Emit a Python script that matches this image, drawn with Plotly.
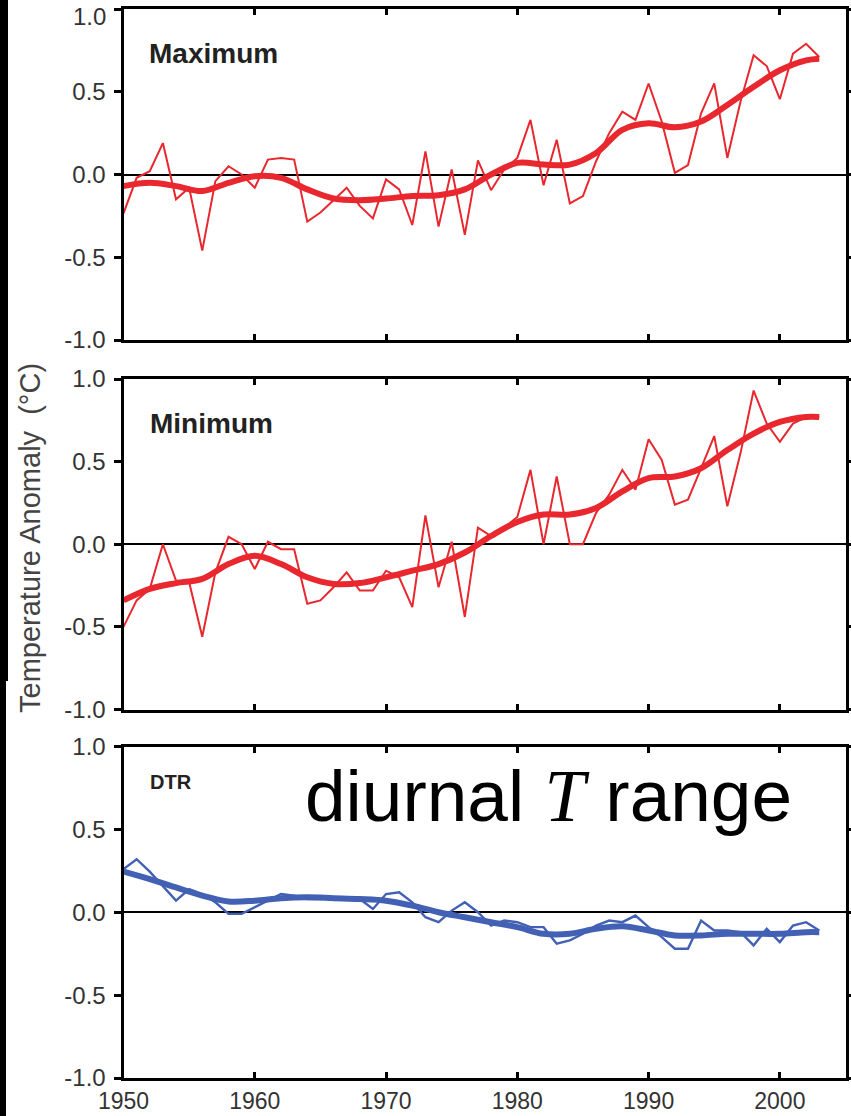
import plotly.graph_objects as go

# ---------------- data ----------------
years = list(range(1950, 2004))

tmax = [-0.235, -0.02, 0.02, 0.19, -0.15, -0.08, -0.46, -0.04, 0.05, 0.0,
        -0.08, 0.09, 0.10, 0.09, -0.285, -0.23, -0.155, -0.08, -0.19, -0.265,
        -0.03, -0.09, -0.305, 0.14, -0.315, 0.03, -0.365, 0.085, -0.095, 0.03,
        0.10, 0.33, -0.065, 0.21, -0.175, -0.13, 0.08, 0.25, 0.38, 0.33,
        0.55, 0.32, 0.01, 0.057, 0.37, 0.55, 0.10, 0.44, 0.72, 0.655,
        0.455, 0.73, 0.79, 0.71]

tmin = [-0.50, -0.34, -0.27, 0.0, -0.22, -0.23, -0.56, -0.17, 0.045, 0.0,
        -0.15, 0.015, -0.03, -0.03, -0.36, -0.34, -0.26, -0.17, -0.28, -0.28,
        -0.16, -0.20, -0.38, 0.175, -0.26, 0.015, -0.44, 0.10, 0.05, 0.10,
        0.165, 0.45, 0.0, 0.41, 0.0, 0.0, 0.19, 0.30, 0.45, 0.33,
        0.635, 0.51, 0.24, 0.27, 0.46, 0.655, 0.23, 0.55, 0.93, 0.73,
        0.62, 0.73, 0.77, 0.77]

dtr = [0.26, 0.32, 0.245, 0.16, 0.07, 0.14, 0.11, 0.06, -0.01, -0.01,
       0.03, 0.07, 0.11, 0.10, 0.08, 0.08, 0.09, 0.08, 0.08, 0.02,
       0.11, 0.12, 0.06, -0.03, -0.06, 0.01, 0.06, 0.0, -0.08, -0.05,
       -0.06, -0.09, -0.09, -0.19, -0.17, -0.13, -0.08, -0.05, -0.06, -0.02,
       -0.09, -0.15, -0.22, -0.22, -0.05, -0.11, -0.11, -0.12, -0.20, -0.10,
       -0.18, -0.08, -0.06, -0.11]

smooth_years = [1950, 1952, 1954, 1956, 1958, 1960, 1962, 1964, 1966, 1968,
                1970, 1972, 1974, 1976, 1978, 1980, 1982, 1984, 1986, 1988,
                1990, 1992, 1994, 1996, 1998, 2000, 2002, 2003]

tmax_smooth = [-0.07, -0.05, -0.07, -0.10, -0.05, -0.01, -0.02, -0.09, -0.145, -0.155,
               -0.145, -0.13, -0.125, -0.09, 0.0, 0.07, 0.06, 0.06, 0.13, 0.27,
               0.31, 0.285, 0.32, 0.42, 0.53, 0.63, 0.69, 0.70]

tmin_smooth = [-0.34, -0.27, -0.235, -0.21, -0.12, -0.07, -0.12, -0.20, -0.24, -0.235,
               -0.20, -0.16, -0.12, -0.05, 0.05, 0.135, 0.18, 0.18, 0.22, 0.32,
               0.40, 0.41, 0.46, 0.57, 0.67, 0.74, 0.77, 0.77]

dtr_smooth = [0.245, 0.20, 0.15, 0.10, 0.065, 0.07, 0.085, 0.09, 0.085, 0.08,
              0.07, 0.04, 0.0, -0.03, -0.06, -0.09, -0.13, -0.13, -0.10, -0.085,
              -0.11, -0.14, -0.14, -0.13, -0.13, -0.13, -0.12, -0.12]

panel_labels = ["Maximum", "Minimum", "DTR"]
x_ticks = [1950, 1960, 1970, 1980, 1990, 2000]
y_ticks = [-1.0, -0.5, 0.0, 0.5, 1.0]
y_ticktext = ["-1.0", "-0.5", "0.0", "0.5", "1.0"]

# ---------------- styling ----------------
W, H = 851, 1116
RED = "#e8282e"
BLUE = "#4361b4"
FONT = "Liberation Sans, Arial, Helvetica, sans-serif"
TICKCOL = "#333333"

panels_px = [(9, 340), (379, 709.5), (746.5, 1078)]
x_dom = [123.5 / W, 845.5 / W]

fig = go.Figure()

series = [(tmax, tmax_smooth, RED, 2.0), (tmin, tmin_smooth, RED, 2.0), (dtr, dtr_smooth, BLUE, 2.4)]
for i, (ann, sm, col, lw) in enumerate(series):
    sfx = "" if i == 0 else str(i + 1)
    fig.add_trace(go.Scatter(x=years, y=ann, mode="lines", line=dict(color=col, width=lw),
                             xaxis="x" + sfx, yaxis="y" + sfx, showlegend=False))
    fig.add_trace(go.Scatter(x=smooth_years, y=sm, mode="lines",
                             line=dict(color=col, width=6, shape="spline", smoothing=1.0),
                             xaxis="x" + sfx, yaxis="y" + sfx, showlegend=False))

layout = dict(width=W, height=H,
              margin=dict(l=0, r=0, t=0, b=0, pad=0, autoexpand=False),
              autosize=False,
              paper_bgcolor="white", plot_bgcolor="white", showlegend=False,
              font=dict(family=FONT, color=TICKCOL))

for i, (top, bot) in enumerate(panels_px):
    sfx = "" if i == 0 else str(i + 1)
    # the top-most "1.0" label sits at the page edge; it is drawn separately below
    ttext = list(y_ticktext)
    if i == 0:
        ttext[-1] = ""
    layout["xaxis" + sfx] = dict(
        domain=x_dom, range=[1950, 2005], anchor="y" + sfx, automargin=False,
        tickvals=x_ticks, ticks="inside", ticklen=6, tickwidth=2.5, tickcolor="black",
        showline=True, linewidth=3, linecolor="black", mirror="ticks",
        showgrid=False, zeroline=False, showticklabels=(i == 2),
        ticklabeloverflow="allow",
        tickfont=dict(family=FONT, size=23, color=TICKCOL), ticklabelstandoff=0)
    layout["yaxis" + sfx] = dict(
        domain=[1 - bot / H, 1 - top / H], range=[-1, 1], anchor="x" + sfx, automargin=False,
        tickvals=y_ticks, ticktext=ttext, ticks="outside", ticklen=7, tickwidth=2.5,
        tickcolor="black", showline=True, linewidth=3, linecolor="black", mirror="ticks",
        showgrid=False, zeroline=True, zerolinecolor="black", zerolinewidth=1.5,
        ticklabeloverflow="allow",
        tickfont=dict(family=FONT, size=24, color=TICKCOL), ticklabelstandoff=3)

fig.update_layout(**layout)

# top "1.0" label of the first panel, nudged down so it stays on the page
fig.add_annotation(text=y_ticktext[-1], xref="paper", yref="paper",
                   x=108 / W, y=1 - 17 / H, xanchor="right", yanchor="middle",
                   showarrow=False, font=dict(family=FONT, size=24, color=TICKCOL))

# panel labels
label_pos = [(147, 53, 28), (148, 423, 28), (148, 782, 20)]
for txt, (lx, ly, fs) in zip(panel_labels, label_pos):
    fig.add_annotation(text="<b>" + txt + "</b>", xref="paper", yref="paper",
                       x=lx / W, y=1 - ly / H, xanchor="left", yanchor="middle",
                       showarrow=False, font=dict(family=FONT, size=fs, color="#222222"))

# y-axis title
fig.add_annotation(text="Temperature Anomaly\u00a0\u00a0(°C)", xref="paper", yref="paper",
                   x=30 / W, y=1 - 538 / H, xanchor="center", yanchor="middle",
                   textangle=-90, showarrow=False,
                   font=dict(family=FONT, size=29, color="#444444"))

# large annotation
fig.add_annotation(text='diurnal <span style="font-family:Liberation Serif"><i>T</i></span> range',
                   xref="paper", yref="paper", x=303 / W, y=1 - 796 / H,
                   xanchor="left", yanchor="middle", showarrow=False,
                   font=dict(family=FONT, size=73, color="black"))

# black strip on the left edge
fig.add_shape(type="rect", xref="paper", yref="paper", x0=0, x1=8 / W, y0=1 - 681 / H, y1=1,
              fillcolor="black", line=dict(width=0), layer="above")
fig.add_shape(type="rect", xref="paper", yref="paper", x0=0, x1=6 / W, y0=0, y1=1 - 681 / H,
              fillcolor="black", line=dict(width=0), layer="above")

fig.write_html("out.html")
